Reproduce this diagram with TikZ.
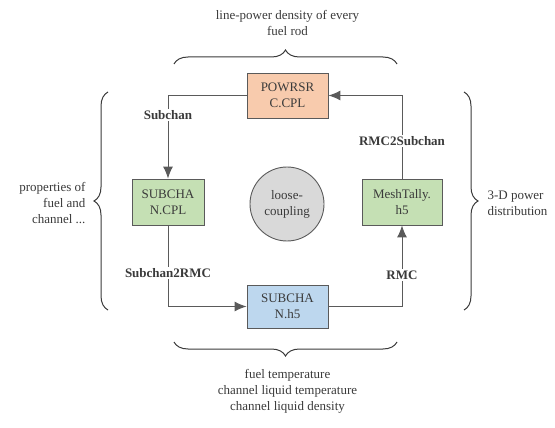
\documentclass[tikz,border=0pt]{standalone}
\usepackage{fontspec}
\setmainfont{Liberation Serif}
\usetikzlibrary{arrows.meta,decorations.pathreplacing}
\definecolor{lc}{HTML}{5A5A5A}
\definecolor{tc}{HTML}{3A3A3A}
\definecolor{orf}{HTML}{F8CBAD}
\definecolor{grf}{HTML}{C5E0B4}
\definecolor{blf}{HTML}{BDD7EE}
\definecolor{cif}{HTML}{D9D9D9}
\begin{document}
\begin{tikzpicture}[x=1pt,y=-1pt,
  every node/.style={font=\rmfamily\fontsize{13}{16}\selectfont, text=tc},
  box/.style={draw=lc, line width=0.9pt, align=center, inner sep=0pt},
  conn/.style={draw=lc, line width=1pt},
  arr/.style={conn, -{Latex[length=12pt,width=10pt]}},
  lab/.style={fill=white, font=\rmfamily\bfseries\fontsize{13}{16}\selectfont, inner sep=1.5pt},
  brc/.style={draw=tc, line width=1pt, decorate, decoration={brace, amplitude=14pt}},
  txt/.style={align=center}]
\useasboundingbox (0,0) rectangle (555,428);
\node[box, fill=orf, minimum width=81pt, minimum height=45pt] (pow) at (287.5,95.5) {POWRSR\\C.CPL};
\node[box, fill=grf, minimum width=72pt, minimum height=46pt] (cpl) at (168,202) {SUBCHA\\N.CPL};
\node[box, fill=grf, minimum width=80pt, minimum height=46pt] (mesh) at (402,202) {MeshTally.\\h5};
\node[box, fill=blf, minimum width=81pt, minimum height=43pt] (h5) at (287.5,306.5) {SUBCHA\\N.h5};
\node[box, circle, fill=cif, minimum size=74pt] (loose) at (287,204) {loose-\\coupling};

\draw[arr] (pow.west) -| (cpl.north);
\draw[arr] (cpl.south) |- (h5.west);
\draw[arr] (h5.east) -| (mesh.south);
\draw[arr] (mesh.north) |- (pow.east);

\node[lab] (l1) at (168,115) {Subchan};
\node[lab] (l2) at (168,273) {Subchan2RMC};
\node[lab] (l3) at (402,275) {RMC};
\node[lab] (l4) at (402,141) {RMC2Subchan};

\coordinate (tb1) at (174,64);
\coordinate (tb2) at (397,64);
\coordinate (bb1) at (397,342);
\coordinate (bb2) at (174,342);
\coordinate (lb1) at (108,310);
\coordinate (lb2) at (108,92);
\coordinate (rb1) at (464,92);
\coordinate (rb2) at (464,310);
\draw[brc] (tb1) -- (tb2);
\draw[brc] (bb1) -- (bb2);
\draw[brc] (lb1) -- (lb2);
\draw[brc] (rb1) -- (rb2);

\node[txt] (ttop) at (287.5,23) {line-power density of every\\fuel rod};
\node[txt] (tbot) at (287.5,391) {fuel temperature\\channel liquid temperature\\channel liquid density};
\node[align=right, anchor=east] (tleft) at (89,203) {properties of\\fuel and\\channel ...};
\node[align=left, anchor=west] (tright) at (484,203.5) {3-D power\\distribution};
\end{tikzpicture}
\end{document}
